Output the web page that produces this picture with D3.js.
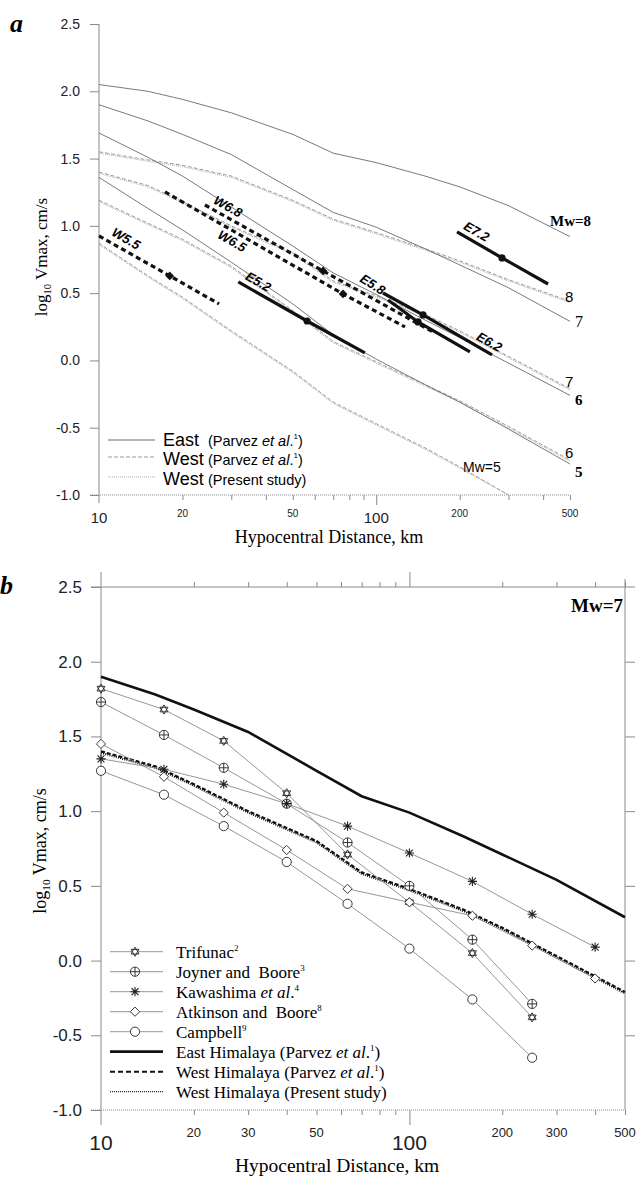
<!DOCTYPE html>
<html>
<head>
<meta charset="utf-8">
<script src="https://cdn.jsdelivr.net/npm/d3@7"></script>
<style>
body { margin: 0; background: #fff; }
svg { display: block; }
</style>
</head>
<body>
<svg id="chart" width="639" height="1177"></svg>
<script>
const dist = [10, 15, 20, 30, 50, 70, 100, 150, 200, 300, 500];

// East Himalaya, Parvez et al.
const eastM8 = [2.05, 2.00, 1.94, 1.84, 1.68, 1.54, 1.47, 1.37, 1.29, 1.15, 0.92];
const eastM7 = [1.90, 1.78, 1.68, 1.53, 1.27, 1.10, 0.99, 0.83, 0.71, 0.54, 0.29];
const eastM6 = [1.69, 1.51, 1.37, 1.14, 0.85, 0.65, 0.49, 0.30, 0.17, -0.02, -0.26];
const eastM5 = [1.36, 1.13, 0.97, 0.73, 0.42, 0.19, 0.01, -0.18, -0.31, -0.51, -0.77];

// West Himalaya, Parvez et al.
const westM8 = [1.55, 1.49, 1.45, 1.37, 1.19, 1.05, 0.95, 0.83, 0.74, 0.60, 0.44];
const westM7 = [1.40, 1.30, 1.18, 1.00, 0.80, 0.59, 0.48, 0.34, 0.22, 0.03, -0.21];
const westM6 = [1.19, 1.02, 0.90, 0.70, 0.37, 0.14, -0.01, -0.18, -0.30, -0.49, -0.74];
const westM5 = [0.87, 0.63, 0.47, 0.22, -0.08, -0.31, -0.47, -0.65, -0.79, -1.00];

// West Himalaya, present study
const newM8 = [1.54, 1.48, 1.44, 1.36, 1.18, 1.04, 0.94, 0.82, 0.73, 0.59, 0.43];
const newM7 = [1.39, 1.29, 1.17, 0.99, 0.79, 0.58, 0.47, 0.33, 0.21, 0.02, -0.22];
const newM6 = [1.18, 1.01, 0.89, 0.69, 0.36, 0.13, -0.02, -0.19, -0.31, -0.50, -0.75];
const newM5 = [0.86, 0.62, 0.46, 0.21, -0.09, -0.32, -0.48, -0.66, -0.80, -1.00];

// observed earthquakes: start, centre point, end  [distance km, log10 Vmax]
const obsNames = ['W5.5', 'W6.8', 'W6.5', 'E5.2', 'E5.8', 'E6.2', 'E7.2'];
const obsStart = [[10, 0.925], [24.1, 1.155], [17.3, 1.252], [31.8, 0.583], [110.3, 0.449], [105.8, 0.501], [195.6, 0.955]];
const obsMid = [[18.0, 0.628], [64.3, 0.665], [75.9, 0.494], [56.3, 0.293], [141.5, 0.286], [147.5, 0.338], [284.3, 0.762]];
const obsEnd = [[27.1, 0.42], [160.1, 0.212], [127, 0.249], [91.0, 0.056], [217.8, 0.063], [261.7, 0.041], [416.8, 0.568]];

// panel b: other relations for Mw=7
const refDist = [10, 16, 25, 40, 63, 100, 160, 250, 400];
const trifunac = [1.82, 1.68, 1.47, 1.12, 0.71, 0.39, 0.05, -0.38];
const joyner = [1.73, 1.51, 1.29, 1.05, 0.79, 0.50, 0.14, -0.29];
const kawashima = [1.35, 1.28, 1.18, 1.05, 0.90, 0.72, 0.53, 0.31, 0.09];
const atkinson = [1.45, 1.23, 0.99, 0.74, 0.48, 0.39, 0.30, 0.10, -0.12];
const campbell = [1.27, 1.11, 0.90, 0.66, 0.38, 0.08, -0.26, -0.65];

const yTicks = [-1, -0.5, 0, 0.5, 1, 1.5, 2, 2.5];
const xMinorTicks = [20, 30, 40, 50, 60, 70, 80, 90, 200, 300, 400, 500];
const xLabelsA = [10, 20, 50, 100, 200, 500];
const xLabelsB = [10, 20, 30, 50, 100, 200, 300, 500];

const serif = '"Liberation Serif", "Times New Roman", serif';
const sans = '"Liberation Sans", Arial, sans-serif';
const axisGrey = '#8a8a8a';

const svg = d3.select('#chart');
svg.append('rect').attr('width', 639).attr('height', 1177).attr('fill', '#fff');

const xA = d3.scaleLog().domain([10, 500]).range([99, 570]);
const yA = d3.scaleLinear().domain([-1, 2.5]).range([495, 24]);
const xB = d3.scaleLog().domain([10, 500]).range([101, 625]);
const yB = d3.scaleLinear().domain([-1, 2.5]).range([1110, 587]);

const pairs = (xs, ys) => ys.map((v, i) => [xs[i], v]);
const isDecade = d => d === 10 || d === 100;

function styleAxis(g) {
    g.select('.domain').remove();
    g.selectAll('line').attr('stroke', axisGrey).attr('stroke-width', 1);
}

// ---------------- panel a ----------------
const gA = svg.append('g');

gA.append('g')
    .attr('transform', 'translate(99,0)')
    .call(d3.axisLeft(yA).tickValues(yTicks).tickSize(9).tickPadding(10).tickFormat(d => d.toFixed(1)))
    .call(styleAxis)
    .call(g => g.selectAll('text').attr('font-family', sans).attr('font-size', 14).attr('fill', '#222'));

gA.append('g')
    .attr('transform', 'translate(0,495)')
    .call(d3.axisBottom(xA).tickValues(xMinorTicks.concat([100])).tickSize(5).tickFormat(''))
    .call(styleAxis)
    .call(g => g.selectAll('.tick line').filter(d => d === 100).attr('y2', 10));

gA.append('line').attr('x1', 99).attr('x2', 99).attr('y1', 24).attr('y2', 503)
    .attr('stroke', axisGrey);
gA.append('line').attr('x1', 90).attr('x2', 570).attr('y1', 495).attr('y2', 495)
    .attr('stroke', axisGrey).attr('stroke-dasharray', '1,1');

gA.selectAll('.xlab')
    .data(xLabelsA)
    .join('text')
    .attr('x', d => xA(d))
    .attr('y', d => isDecade(d) ? 523 : 517)
    .attr('text-anchor', 'middle')
    .attr('font-family', sans)
    .attr('font-size', d => isDecade(d) ? 15 : 10)
    .attr('fill', '#222')
    .text(d => d);

gA.append('text')
    .attr('x', 329).attr('y', 543)
    .attr('text-anchor', 'middle')
    .attr('font-family', serif).attr('font-size', 18)
    .text('Hypocentral Distance, km');

function yTitle(g, x, y, size) {
    const t = g.append('text')
        .attr('transform', `translate(${x},${y}) rotate(-90)`)
        .attr('text-anchor', 'middle')
        .attr('font-family', serif).attr('font-size', size);
    t.append('tspan').text('log');
    t.append('tspan').attr('font-size', size * 0.62).attr('dy', 4).text('10');
    t.append('tspan').attr('dy', -4).text(' Vmax, cm/s');
}
yTitle(gA, 47, 257, 17);

gA.append('text').attr('x', 10).attr('y', 32)
    .attr('font-family', serif).attr('font-size', 26)
    .attr('font-weight', 'bold').attr('font-style', 'italic')
    .text('a');

const lineA = d3.line().x(d => xA(d[0])).y(d => yA(d[1]));

const westSets = [westM8, westM7, westM6, westM5];
const newSets = [newM8, newM7, newM6, newM5];
const eastSets = [eastM8, eastM7, eastM6, eastM5];

gA.selectAll('.west')
    .data(westSets)
    .join('path')
    .attr('d', s => lineA(pairs(dist, s)))
    .attr('fill', 'none').attr('stroke', '#9a9a9a').attr('stroke-width', 1)
    .attr('stroke-dasharray', '4,2');

gA.selectAll('.newwest')
    .data(newSets)
    .join('path')
    .attr('d', s => lineA(pairs(dist, s)))
    .attr('fill', 'none').attr('stroke', '#aaaaaa').attr('stroke-width', 1)
    .attr('stroke-dasharray', '1,1');

gA.selectAll('.east')
    .data(eastSets)
    .join('path')
    .attr('d', s => lineA(pairs(dist, s)))
    .attr('fill', 'none').attr('stroke', '#6a6a6a').attr('stroke-width', 0.9);

// observed segments; label placed at fraction t along the segment, lifted off it
const labelT = [0.18, 0.08, 0.3, 0.12, -0.22, 0.93, 0.16];
const labelLift = [10, 9, -11, 9, 4, 9, 9];

obsNames.forEach((name, i) => {
    const west = name[0] === 'W';
    const p0 = [xA(obsStart[i][0]), yA(obsStart[i][1])];
    const pm = [xA(obsMid[i][0]), yA(obsMid[i][1])];
    const p1 = [xA(obsEnd[i][0]), yA(obsEnd[i][1])];
    gA.append('path')
        .attr('d', d3.line()([p0, pm, p1]))
        .attr('fill', 'none').attr('stroke', '#111')
        .attr('stroke-width', 3.2)
        .attr('stroke-dasharray', west ? '5,3.5' : null);
    if (west) {
        gA.append('path')
            .attr('d', d3.symbol(d3.symbolDiamond2, 48)())
            .attr('transform', `translate(${pm[0]},${pm[1]})`)
            .attr('fill', '#111');
    } else {
        gA.append('circle').attr('cx', pm[0]).attr('cy', pm[1]).attr('r', 3.6).attr('fill', '#111');
    }
    const ang = Math.atan2(p1[1] - p0[1], p1[0] - p0[0]);
    const t = labelT[i];
    const lx = p0[0] + (p1[0] - p0[0]) * t + Math.sin(ang) * labelLift[i];
    const ly = p0[1] + (p1[1] - p0[1]) * t - Math.cos(ang) * labelLift[i];
    gA.append('text')
        .attr('transform', `translate(${lx},${ly}) rotate(${ang * 180 / Math.PI})`)
        .attr('text-anchor', 'middle').attr('dominant-baseline', 'middle')
        .attr('font-family', sans).attr('font-size', 13)
        .attr('font-style', 'italic').attr('font-weight', 'bold')
        .text(name);
});

// curve end labels
const endLabels = [
    { text: 'Mw=8', x: 550, y: 226, font: serif, bold: true, size: 15 },
    { text: '8', x: 565, y: 302, font: sans, bold: false, size: 15 },
    { text: '7', x: 575, y: 327, font: serif, bold: false, size: 16 },
    { text: '7', x: 565, y: 387, font: sans, bold: false, size: 15 },
    { text: '6', x: 575, y: 405, font: serif, bold: true, size: 15 },
    { text: '6', x: 565, y: 458, font: sans, bold: false, size: 15 },
    { text: '5', x: 575, y: 477, font: serif, bold: true, size: 15 },
    { text: 'Mw=5', x: 463, y: 472, font: sans, bold: false, size: 14 }
];
gA.selectAll('.endlab')
    .data(endLabels)
    .join('text')
    .attr('x', d => d.x).attr('y', d => d.y)
    .attr('font-family', d => d.font)
    .attr('font-size', d => d.size)
    .attr('font-weight', d => d.bold ? 'bold' : 'normal')
    .text(d => d.text);

// legend a
const legA = gA.append('g');
const legRowsA = [
    { head: 'East', tail: 'parvez', y: 440, ty: 446, stroke: '#6a6a6a', dash: null },
    { head: 'West', tail: 'parvez', y: 457, ty: 465, stroke: '#9a9a9a', dash: '4,2' },
    { head: 'West', tail: 'present', y: 477, ty: 485, stroke: '#aaaaaa', dash: '1,1' }
];
legRowsA.forEach(r => {
    legA.append('line').attr('x1', 108).attr('x2', 155).attr('y1', r.y).attr('y2', r.y)
        .attr('stroke', r.stroke).attr('stroke-dasharray', r.dash);
    legA.append('text').attr('x', 163).attr('y', r.ty)
        .attr('font-family', sans).attr('font-size', 18).text(r.head);
    const t = legA.append('text').attr('x', 208).attr('y', r.ty)
        .attr('font-family', sans).attr('font-size', 14.5);
    if (r.tail === 'parvez') {
        t.append('tspan').text('(Parvez ');
        t.append('tspan').attr('font-style', 'italic').text('et al');
        t.append('tspan').text('.');
        t.append('tspan').attr('font-size', 8).attr('dy', -7).text('1');
        t.append('tspan').attr('dy', 7).text(')');
    } else {
        t.text('(Present study)');
    }
});

// ---------------- panel b ----------------
const gB = svg.append('g');

gB.append('g')
    .attr('transform', 'translate(101,0)')
    .call(d3.axisLeft(yB).tickValues(yTicks).tickSize(10).tickPadding(9).tickFormat(d => d.toFixed(1)))
    .call(styleAxis)
    .call(g => g.selectAll('text').attr('font-family', sans).attr('font-size', 17).attr('fill', '#222'));

gB.append('g')
    .attr('transform', 'translate(625,0)')
    .call(d3.axisRight(yB).tickValues(yTicks.slice(1, 7)).tickSize(10).tickFormat(''))
    .call(styleAxis);

gB.append('g')
    .attr('transform', 'translate(0,1110)')
    .call(d3.axisBottom(xB).tickValues(xMinorTicks.concat([100])).tickSize(5).tickFormat(''))
    .call(styleAxis)
    .call(g => g.selectAll('.tick line').filter(d => d === 100).attr('y2', 15));

gB.append('g')
    .attr('transform', 'translate(0,587)')
    .call(d3.axisTop(xB).tickValues(xMinorTicks.concat([100])).tickSize(5).tickFormat(''))
    .call(styleAxis)
    .call(g => g.selectAll('.tick line').filter(d => d === 100).attr('y2', -15));

gB.append('line').attr('x1', 101).attr('x2', 101).attr('y1', 572).attr('y2', 1125).attr('stroke', axisGrey);
gB.append('line').attr('x1', 625).attr('x2', 625).attr('y1', 579).attr('y2', 1110).attr('stroke', axisGrey);
gB.append('line').attr('x1', 91).attr('x2', 635).attr('y1', 587).attr('y2', 587).attr('stroke', axisGrey);
gB.append('line').attr('x1', 91).attr('x2', 625).attr('y1', 1110).attr('y2', 1110)
    .attr('stroke', axisGrey).attr('stroke-dasharray', '1,1');

gB.selectAll('.xlab')
    .data(xLabelsB)
    .join('text')
    .attr('x', d => xB(d))
    .attr('y', d => isDecade(d) ? 1150 : 1137)
    .attr('text-anchor', 'middle')
    .attr('font-family', sans)
    .attr('font-size', d => isDecade(d) ? 21 : 13)
    .attr('fill', '#222')
    .text(d => d);

gB.append('text')
    .attr('x', 337).attr('y', 1172)
    .attr('text-anchor', 'middle')
    .attr('font-family', serif).attr('font-size', 19.5)
    .text('Hypocentral Distance, km');

yTitle(gB, 46, 851, 18);

gB.append('text').attr('x', 0).attr('y', 594)
    .attr('font-family', serif).attr('font-size', 26)
    .attr('font-weight', 'bold').attr('font-style', 'italic')
    .text('b');

gB.append('text').attr('x', 623).attr('y', 612)
    .attr('text-anchor', 'end')
    .attr('font-family', serif).attr('font-size', 19).attr('font-weight', 'bold')
    .text('Mw=7');

const lineB = d3.line().x(d => xB(d[0])).y(d => yB(d[1]));

// marker shapes
function marker(g, kind, cx, cy) {
    const r = 4.6;
    const m = g.append('g').attr('transform', `translate(${cx},${cy})`)
        .attr('fill', '#fff').attr('stroke', '#222').attr('stroke-width', 0.9);
    if (kind === 'star') {
        const tri = a => d3.range(3).map(k => {
            const t = a + k * 2 * Math.PI / 3;
            return [r * Math.sin(t), -r * Math.cos(t)];
        });
        m.append('path').attr('d', 'M' + tri(0).join('L') + 'Z');
        m.append('path').attr('d', 'M' + tri(Math.PI).join('L') + 'Z').attr('fill', 'none');
    } else if (kind === 'oplus') {
        m.append('circle').attr('r', r);
        m.append('path').attr('d', `M${-r},0H${r}M0,${-r}V${r}`);
    } else if (kind === 'aster') {
        const a = r * 0.75;
        m.append('path').attr('d', `M0,${-r}V${r}M${-a},${-a}L${a},${a}M${-a},${a}L${a},${-a}M${-r},0H${r}`)
            .attr('stroke-width', 1.1);
    } else if (kind === 'diamond') {
        m.append('path').attr('d', `M0,${-r}L${r},0L0,${r}L${-r},0Z`);
    } else {
        m.append('circle').attr('r', r);
    }
}

const refSets = [
    { name: 'trifunac', values: trifunac, kind: 'star' },
    { name: 'joyner', values: joyner, kind: 'oplus' },
    { name: 'kawashima', values: kawashima, kind: 'aster' },
    { name: 'atkinson', values: atkinson, kind: 'diamond' },
    { name: 'campbell', values: campbell, kind: 'circle' }
];

gB.append('path').attr('d', lineB(pairs(dist, westM7)))
    .attr('fill', 'none').attr('stroke', '#111').attr('stroke-width', 2.2).attr('stroke-dasharray', '4,2');
gB.append('path').attr('d', lineB(pairs(dist, newM7)))
    .attr('fill', 'none').attr('stroke', '#111').attr('stroke-width', 2).attr('stroke-dasharray', '1,1.2');
gB.append('path').attr('d', lineB(pairs(dist, eastM7)))
    .attr('fill', 'none').attr('stroke', '#111').attr('stroke-width', 2.6);

refSets.forEach(s => {
    const pts = pairs(refDist, s.values);
    gB.append('path').attr('d', lineB(pts))
        .attr('fill', 'none').attr('stroke', '#8a8a8a').attr('stroke-width', 0.9);
});
refSets.forEach(s => {
    pairs(refDist, s.values).forEach(p => marker(gB, s.kind, xB(p[0]), yB(p[1])));
});

// legend b
const legB = gB.append('g');
const legRowsB = [
    { kind: 'star', parts: [['Trifunac'], ['2', 'sup']] },
    { kind: 'oplus', parts: [['Joyner and  Boore'], ['3', 'sup']] },
    { kind: 'aster', parts: [['Kawashima '], ['et al', 'it'], ['.'], ['4', 'sup']] },
    { kind: 'diamond', parts: [['Atkinson and  Boore'], ['8', 'sup']] },
    { kind: 'circle', parts: [['Campbell'], ['9', 'sup']] },
    { kind: 'east', parts: [['East Himalaya (Parvez '], ['et al', 'it'], ['.'], ['1', 'sup'], [')', 'down']] },
    { kind: 'west', parts: [['West Himalaya (Parvez '], ['et al', 'it'], ['.'], ['1', 'sup'], [')', 'down']] },
    { kind: 'new', parts: [['West Himalaya (Present study)']] }
];
legRowsB.forEach((r, i) => {
    const y = 951.7 + i * 20;
    const ln = legB.append('line').attr('x1', 110).attr('x2', 163).attr('y1', y).attr('y2', y);
    if (r.kind === 'east') ln.attr('stroke', '#111').attr('stroke-width', 2.8);
    else if (r.kind === 'west') ln.attr('stroke', '#111').attr('stroke-width', 2).attr('stroke-dasharray', '5,3');
    else if (r.kind === 'new') ln.attr('stroke', '#222').attr('stroke-width', 1.3).attr('stroke-dasharray', '1,1');
    else {
        ln.attr('stroke', '#8a8a8a').attr('stroke-width', 0.9);
        marker(legB, r.kind, 135, y);
    }
    const t = legB.append('text').attr('x', 176).attr('y', y + 6)
        .attr('font-family', serif).attr('font-size', 17)
        .style('white-space', 'pre');
    r.parts.forEach(p => {
        const ts = t.append('tspan').text(p[0]);
        if (p[1] === 'it') ts.attr('font-style', 'italic');
        if (p[1] === 'sup') ts.attr('font-size', 9).attr('dy', -7);
        if (p[1] === 'down') ts.attr('dy', 7);
    });
});
</script>
</body>
</html>
